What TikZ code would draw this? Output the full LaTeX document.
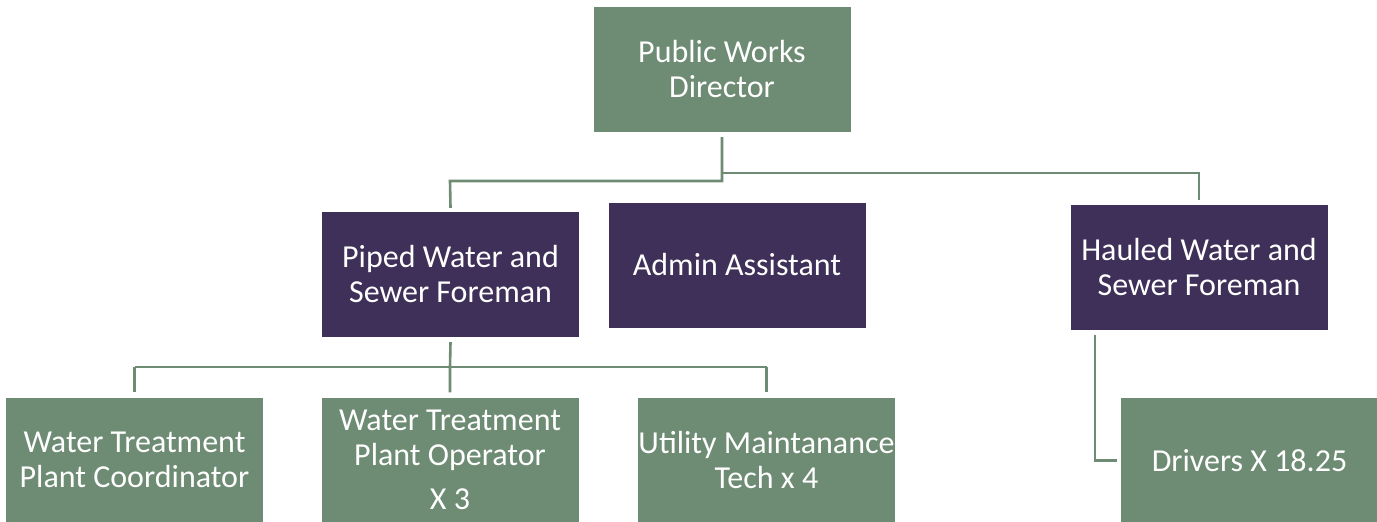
\documentclass[tikz,border=0pt]{standalone}
\usepackage{fontspec}
\setmainfont{Carlito}
\usetikzlibrary{positioning}

\definecolor{sage}{HTML}{6E8B74}
\definecolor{plum}{HTML}{3E3058}

\begin{document}
\begin{tikzpicture}[
    x=1pt, y=-1pt,
    % box styles
    green_box/.style={rectangle, fill=sage, text=white, minimum width=257pt,
                      minimum height=125pt, inner sep=0pt, align=center,
                      font=\fontsize{32}{35}\selectfont},
    purple_box/.style={green_box, fill=plum},
    link/.style={draw=sage, line width=2.6pt}
]
\useasboundingbox (0,0) rectangle (1377,522);
\clip (0,0) rectangle (1377,522);

% Top
\node[green_box] (director) at (722,69.5) {Public Works\\Director};

% Middle row
\node[purple_box] (piped) at (450.5,274.5) {Piped Water and\\Sewer Foreman};
\node[purple_box] (admin) at (737,265) {Admin Assistant};
\node[purple_box] (hauled) at (1199,267) {Hauled Water and\\Sewer Foreman};

% Bottom row
\node[green_box] (coord) at (134.5,460) {Water Treatment\\Plant Coordinator};
\node[green_box] (operator) at (450,460) {Water Treatment\\Plant Operator\\[9pt]X 3};
\node[green_box] (utility) at (766.5,460) {Utility Maintanance\\Tech x 4};
\node[green_box] (drivers) at (1249.5,460.5) {Drivers X 18.25};

% Connectors
\draw[link] ([yshift=-5pt]director.south) |- (450,181) -- ([yshift=4pt]piped.north);
\draw[link] ([yshift=-5pt]director.south) |- (1199,173) -- ([yshift=4pt]hauled.north);

\draw[link] ([yshift=-5pt]piped.south) -- (450,367) -- ([yshift=5pt]operator.north);
\draw[link] (134.5,367) -- (766.5,367);
\draw[link] (134.5,367) -- ([yshift=5pt]coord.north);
\draw[link] (766.5,367) -- ([yshift=5pt]utility.north);

\draw[link] ([xshift=-104pt,yshift=-5pt]hauled.south) |- ([xshift=-4pt]drivers.west);

\end{tikzpicture}
\end{document}
